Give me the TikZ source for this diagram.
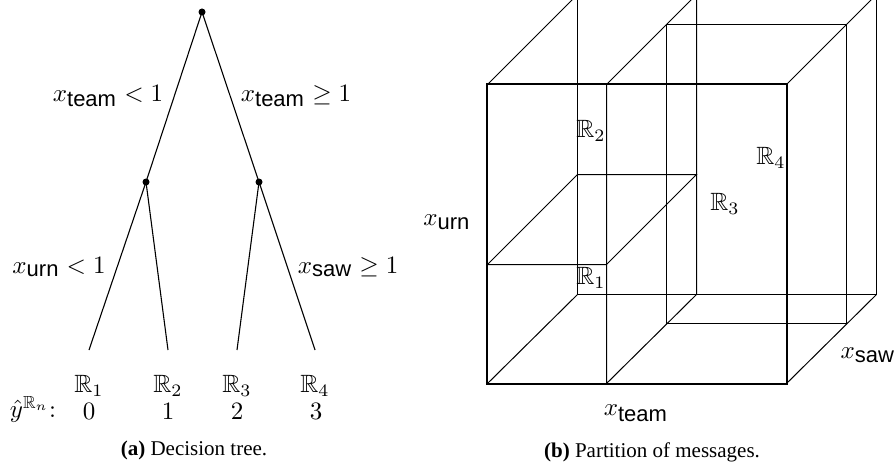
\documentclass[tikz,border=0pt]{standalone}
\usepackage{amsmath,amssymb}
\usepackage{fontspec}
\newfontfamily\hvfont{Liberation Sans}
\newfontfamily\tmfont{Liberation Serif}
\newcommand{\sv}[1]{\hbox{\hvfont\fontsize{8.8}{10}\selectfont #1}}
\begin{document}
\begin{tikzpicture}[x=1pt,y=-1pt,
  lbl/.style={inner sep=0pt,scale=2.5,font=\fontsize{10}{12}\selectfont},
  caplbl/.style={inner sep=0pt,font=\tmfont\fontsize{21}{25}\selectfont},
  dotnode/.style={circle,fill,inner sep=0pt,minimum size=7pt},
  edgeline/.style={line width=1.1pt},
  boxline/.style={line width=1pt},
  frontline/.style={line width=2pt}]
\useasboundingbox (0,0) rectangle (896,468);
\clip (0,0) rectangle (896,468);
% ---------- (a) decision tree ----------
\node[dotnode] (root) at (202,12) {};
\node[dotnode] (nl) at (146,182) {};
\node[dotnode] (nr) at (259,182) {};
\coordinate (l1) at (89,350);
\coordinate (l2) at (168,350);
\coordinate (l3) at (237,350);
\coordinate (l4) at (315,350);
\draw[edgeline] (root.center) -- (nl.center);
\draw[edgeline] (root.center) -- (nr.center);
\draw[edgeline] (nl.center) -- (l1);
\draw[edgeline] (nl.center) -- (l2);
\draw[edgeline] (nr.center) -- (l3);
\draw[edgeline] (nr.center) -- (l4);
\node[lbl] (e1) at (108,96) {$x_{\sv{team}} < 1$};
\node[lbl] (e2) at (296,96) {$x_{\sv{team}} \geq 1$};
\node[lbl] (e3) at (59,267) {$x_{\sv{urn}} < 1$};
\node[lbl] (e4) at (348,267) {$x_{\sv{saw}} \geq 1$};
\node[lbl] (r1) at (89,386) {$\mathbb{R}_1$};
\node[lbl] (r2) at (168,386) {$\mathbb{R}_2$};
\node[lbl] (r3) at (237,386) {$\mathbb{R}_3$};
\node[lbl] (r4) at (315,386) {$\mathbb{R}_4$};
\node[lbl] (yh) at (33,409) {$\hat{y}^{\mathbb{R}_n}$:};
\node[lbl] (v0) at (89,411) {$0$};
\node[lbl] (v1) at (168,411) {$1$};
\node[lbl] (v2) at (237,411) {$2$};
\node[lbl] (v3) at (316,411) {$3$};
\node[caplbl] (capa) at (194,450) {\textbf{(a)} Decision tree.};
% ---------- (b) partition ----------
\begin{scope}[shift={(0.5,0.5)}]
\draw[boxline] (487,84) -- (577,-6) (786,84) -- (876,-6)
               (786,383) -- (876,294) (487,383) -- (577,294);
\draw[boxline] (577,-6) -- (577,294) -- (876,294) -- (876,-6) -- cycle;
\draw[boxline] (606,84) -- (606,383) (606,84) -- (696,-6)
               (606,383) -- (696,294) (696,-6) -- (696,294);
\draw[boxline] (487,264) -- (606,264) -- (696,174) -- (577,174) -- cycle;
\draw[boxline] (666,24) rectangle (846,323);
\end{scope}
\draw[frontline] (487,84) rectangle (787,384);
\node[lbl] (b2) at (591,131) {$\mathbb{R}_2$};
\node[lbl] (b1) at (591,278) {$\mathbb{R}_1$};
\node[lbl] (b3) at (725,204) {$\mathbb{R}_3$};
\node[lbl] (b4) at (771,158) {$\mathbb{R}_4$};
\node[lbl] (xu) at (447,222) {$x_{\sv{urn}}$};
\node[lbl] (xt) at (636,413) {$x_{\sv{team}}$};
\node[lbl] (xs) at (868,355) {$x_{\sv{saw}}$};
\node[caplbl] (capb) at (652,452) {\textbf{(b)} Partition of messages.};
\end{tikzpicture}
\end{document}
